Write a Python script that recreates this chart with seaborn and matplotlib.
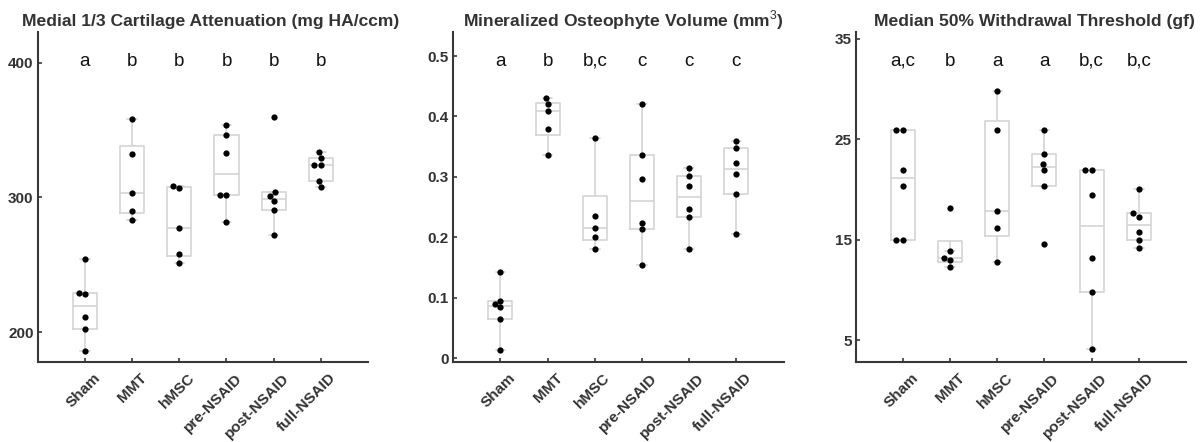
import numpy as np
import pandas as pd
import matplotlib
matplotlib.use("Agg")
import matplotlib.pyplot as plt
import matplotlib.cbook as cbook
import matplotlib.transforms as mtransforms
import seaborn as sns

# ---------------- data ----------------
categories = ["Sham", "MMT", "hMSC", "pre-NSAID", "post-NSAID", "full-NSAID"]

cart_sham = [254, 229, 228, 211, 202, 186]
cart_mmt = [358, 332, 303, 290, 283.5]
cart_hmsc = [308.6, 307, 277, 258, 251.5]
cart_pre = [354, 346, 333, 302, 302, 282]
cart_post = [360, 304, 301, 297, 291, 272]
cart_full = [334, 329.5, 324, 324, 312.5, 308]
cart_letters = ["a", "b", "b", "b", "b", "b"]

ost_sham = [0.143, 0.095, 0.089, 0.084, 0.065, 0.014]
ost_mmt = [0.430, 0.420, 0.409, 0.379, 0.337]
ost_hmsc = [0.364, 0.236, 0.215, 0.201, 0.180]
ost_pre = [0.420, 0.337, 0.297, 0.224, 0.213, 0.154]
ost_post = [0.314, 0.302, 0.285, 0.247, 0.234, 0.180]
ost_full = [0.359, 0.348, 0.323, 0.304, 0.271, 0.206]
ost_letters = ["a", "b", "b,c", "c", "c", "c"]

wd_sham = [25.9, 25.9, 22.0, 20.4, 15.0, 15.0]
wd_mmt = [18.15, 13.85, 13.2, 13.0, 12.3]
wd_hmsc = [29.8, 25.9, 17.85, 16.2, 12.8]
wd_pre = [25.9, 23.5, 22.6, 22.0, 20.4, 14.6]
wd_post = [22.0, 22.0, 19.5, 13.2, 9.8, 4.1]
wd_full = [20.1, 17.65, 17.3, 15.75, 15.0, 14.15]
wd_letters = ["a,c", "b", "a", "a", "b,c", "b,c"]

titles = ["Medial 1/3 Cartilage Attenuation (mg HA/ccm)",
          r"Mineralized Osteophyte Volume (mm$^{3}$)",
          "Median 50% Withdrawal Threshold (gf)"]
yticks_list = [[200, 300, 400], [0, 0.1, 0.2, 0.3, 0.4, 0.5], [5, 15, 25, 35]]
ytick_labels_list = [["200", "300", "400"],
                     ["0", "0.1", "0.2", "0.3", "0.4", "0.5"],
                     ["5", "15", "25", "35"]]
ylims = [(177.4, 423), (-0.007, 0.54), (2.81, 35.7)]
whis_list = [2.0, (0, 100), 1.4]
title_x = [0.522, 0.516, 0.540]


def long_frame(groups):
    rows = []
    for cat, vals in zip(categories, groups):
        for v in vals:
            rows.append({"group": cat, "value": v})
    return pd.DataFrame(rows)


frames = [
    long_frame([cart_sham, cart_mmt, cart_hmsc, cart_pre, cart_post, cart_full]),
    long_frame([ost_sham, ost_mmt, ost_hmsc, ost_pre, ost_post, ost_full]),
    long_frame([wd_sham, wd_mmt, wd_hmsc, wd_pre, wd_post, wd_full]),
]
letters_list = [cart_letters, ost_letters, wd_letters]

# MATLAB-style (hazen) quartiles for the boxes
_orig_stats = cbook.boxplot_stats


def _hazen_one(s, x, whis):
    x = np.asarray(x, dtype=float).ravel()
    x = x[np.isfinite(x)]
    if x.size == 0:
        return
    q1, med, q3 = np.percentile(x, [25, 50, 75], method="hazen")
    iqr = q3 - q1
    if np.iterable(whis):
        lo, hi = np.percentile(x, whis, method="hazen")
    else:
        lo, hi = q1 - whis * iqr, q3 + whis * iqr
    inside = x[(x >= lo) & (x <= hi)]
    s.update(q1=q1, med=med, q3=q3, iqr=iqr,
             whislo=inside.min() if inside.size else q1,
             whishi=inside.max() if inside.size else q3,
             fliers=x[(x < lo) | (x > hi)])


def hazen_boxplot_stats(X, whis=1.5, bootstrap=None, labels=None, autorange=False):
    stats = _orig_stats(X, whis=whis, bootstrap=bootstrap, labels=labels,
                        autorange=autorange)
    if len(stats) == 1 and np.ndim(np.asarray(X, dtype=object)) == 1 and \
            not any(np.iterable(v) for v in X):
        _hazen_one(stats[0], X, whis)
    else:
        for s, x in zip(stats, X):
            _hazen_one(s, x, whis)
    return stats


cbook.boxplot_stats = hazen_boxplot_stats

# ---------------- style ----------------
sns.set_style("white")
plt.rcParams["font.family"] = ["Liberation Sans", "DejaVu Sans"]
plt.rcParams["mathtext.fontset"] = "custom"
plt.rcParams["mathtext.rm"] = "Liberation Sans"
plt.rcParams["mathtext.bf"] = "Liberation Sans:bold"

axis_color = "#383838"
box_color = "#d4d4d4"

fig = plt.figure(figsize=(12.02, 4.42), dpi=100)
lefts = [0.0314, 0.3771, 0.7119]
width = 0.2748
bottom, height = 0.18, 0.748

for i in range(3):
    ax = fig.add_axes([lefts[i], bottom, width, height])
    df = frames[i]
    sns.boxplot(data=df, x="group", y="value", order=categories, ax=ax,
                fill=False, color=box_color, linecolor=box_color, width=0.51,
                linewidth=1.2, whis=whis_list[i], showfliers=False,
                capwidths=0.2)
    sns.swarmplot(data=df, x="group", y="value", order=categories, ax=ax,
                  color="black", size=4.5, linewidth=0)
    ax.set_xlim(-1, 6)
    ax.set_ylim(*ylims[i])
    ax.set_yticks(yticks_list[i])
    ax.set_yticklabels(ytick_labels_list[i])
    ax.set_xlabel("")
    ax.set_ylabel("")
    for side in ["top", "right"]:
        ax.spines[side].set_visible(False)
    for side in ["left", "bottom"]:
        ax.spines[side].set_color(axis_color)
        ax.spines[side].set_linewidth(1.5)
    ax.tick_params(axis="both", direction="in", length=3, width=1.2,
                   color=axis_color, labelcolor="#333333", labelsize=11)
    ax.tick_params(axis="x", pad=6)
    ax.tick_params(axis="y", pad=3, left=True)
    ax.tick_params(axis="x", bottom=True)
    offset = mtransforms.ScaledTranslation(8 / 100, 0, fig.dpi_scale_trans)
    for lab in ax.get_xticklabels():
        lab.set_rotation(45)
        lab.set_ha("right")
        lab.set_rotation_mode("anchor")
        lab.set_fontweight("bold")
        lab.set_transform(lab.get_transform() + offset)
    for lab in ax.get_yticklabels():
        lab.set_fontweight("bold")
    ax.set_title(titles[i], fontsize=12.6, fontweight="bold", color="#333333",
                 x=title_x[i], pad=4)
    trans = mtransforms.blended_transform_factory(ax.transData, ax.transAxes)
    for j, letter in enumerate(letters_list[i]):
        ax.text(j, 0.897, letter, transform=trans, ha="center", va="baseline",
                fontsize=13.5, color="#111111")

fig.savefig("out.png", dpi=100)
